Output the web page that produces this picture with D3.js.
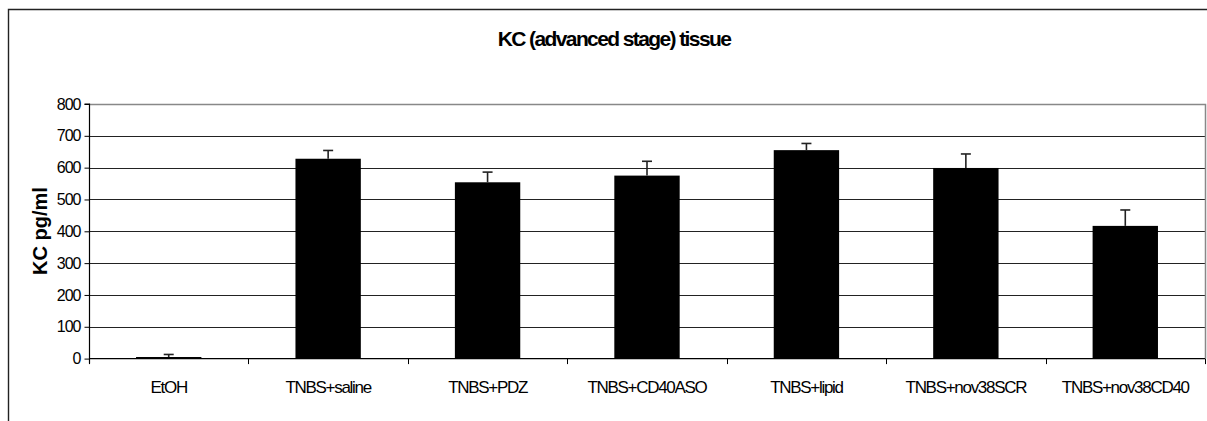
<!DOCTYPE html>
<html>
<head>
<meta charset="utf-8">
<script src="https://cdn.jsdelivr.net/npm/d3@7"></script>
<style>
  html, body { margin: 0; padding: 0; background: #fff; }
  svg { display: block; }
  text { font-family: "Liberation Sans", Arial, sans-serif; fill: #000; }
</style>
</head>
<body>
<svg id="chart" width="1207" height="421"></svg>
<script>
// Treatment groups along the x axis
const categories = ["EtOH", "TNBS+saline", "TNBS+PDZ", "TNBS+CD40ASO", "TNBS+lipid", "TNBS+nov38SCR", "TNBS+nov38CD40"];
// Mean KC concentration (pg/ml) per group
const means = [5, 628, 554, 575, 655, 599, 417];
// Upper error (SEM) per group
const errors = [8, 26, 32, 45, 21, 44, 50];
// Y axis tick values
const yTicks = [0, 100, 200, 300, 400, 500, 600, 700, 800];

const chartTitle = "KC (advanced stage) tissue";
const yTitle = "KC pg/ml";

const svg = d3.select("#chart");

const plot = { left: 89, right: 1205, top: 104, bottom: 358.6 };

const x = d3.scaleBand()
  .domain(categories)
  .range([plot.left, plot.right])
  .paddingInner(0.59)
  .paddingOuter(0.295);

const y = d3.scaleLinear()
  .domain([0, 800])
  .range([plot.bottom, plot.top]);

// Outer chart frame (top and left edges)
svg.append("path")
  .attr("d", `M8.5,421 V9.5 H1207`)
  .attr("fill", "none")
  .attr("stroke", "#222")
  .attr("stroke-width", 1.4);

// Title
svg.append("text")
  .attr("x", 614)
  .attr("y", 46)
  .attr("text-anchor", "middle")
  .style("font-size", "21px")
  .style("font-weight", "bold")
  .style("letter-spacing", "-1.6px")
  .text(chartTitle);

// Horizontal gridlines
svg.append("g")
  .selectAll("line")
  .data(yTicks.filter(t => t > 0 && t < 800))
  .join("line")
  .attr("x1", plot.left)
  .attr("x2", plot.right)
  .attr("y1", d => Math.round(y(d)) + 0.5)
  .attr("y2", d => Math.round(y(d)) + 0.5)
  .attr("stroke", "#222")
  .attr("stroke-width", 1);

// Plot area border (top and right)
svg.append("path")
  .attr("d", `M${plot.left},${Math.round(y(800)) + 0.5} H${plot.right + 0.5} V${plot.bottom}`)
  .attr("fill", "none")
  .attr("stroke", "#888")
  .attr("stroke-width", 1.5);

// Bars
svg.append("g")
  .selectAll("rect")
  .data(categories)
  .join("rect")
  .attr("x", d => x(d))
  .attr("width", x.bandwidth())
  .attr("y", (d, i) => y(means[i]))
  .attr("height", (d, i) => y(0) - y(means[i]))
  .attr("fill", "#000");

// Error bars (upper only)
const eb = svg.append("g").attr("stroke", "#222").attr("stroke-width", 1.6);
categories.forEach((c, i) => {
  const cx = x(c) + x.bandwidth() / 2;
  eb.append("line")
    .attr("x1", cx).attr("x2", cx)
    .attr("y1", y(means[i])).attr("y2", y(means[i] + errors[i]));
  eb.append("line")
    .attr("x1", cx - 5).attr("x2", cx + 5)
    .attr("y1", y(means[i] + errors[i])).attr("y2", y(means[i] + errors[i]));
});

// Y axis
const yAxis = svg.append("g")
  .attr("transform", `translate(${plot.left + 0.5},0)`)
  .call(d3.axisLeft(y).tickValues(yTicks).tickSize(5).tickPadding(4).tickSizeOuter(0));
yAxis.select(".domain").attr("stroke", "#000").attr("stroke-width", 1.2)
  .attr("d", `M-5,${y(800)}H0V${plot.bottom + 5}`);
yAxis.selectAll(".tick line").attr("stroke", "#000");
yAxis.selectAll(".tick text")
  .style("font-size", "16px")
  .style("letter-spacing", "-1px")
  .attr("font-family", null);

// X axis with tick marks between categories
const xAxisG = svg.append("g");
xAxisG.append("line")
  .attr("x1", plot.left).attr("x2", plot.right)
  .attr("y1", plot.bottom).attr("y2", plot.bottom)
  .attr("stroke", "#000").attr("stroke-width", 1.4);
const step = x.step();
const boundaries = d3.range(categories.length + 1).map(i => plot.left + i * step);
xAxisG.selectAll("line.tick")
  .data(boundaries)
  .join("line")
  .attr("class", "tick")
  .attr("x1", d => Math.round(d) + 0.5)
  .attr("x2", d => Math.round(d) + 0.5)
  .attr("y1", plot.bottom)
  .attr("y2", plot.bottom + 5.5)
  .attr("stroke", "#000");

// Category labels
xAxisG.selectAll("text")
  .data(categories)
  .join("text")
  .attr("x", d => x(d) + x.bandwidth() / 2)
  .attr("y", 393)
  .attr("text-anchor", "middle")
  .style("font-size", "17px")
  .style("letter-spacing", "-1.3px")
  .text(d => d);

// Y axis title
svg.append("text")
  .attr("transform", `translate(47,231) rotate(-90)`)
  .attr("text-anchor", "middle")
  .style("font-size", "20px")
  .style("font-weight", "bold")
  .text(yTitle);
</script>
</body>
</html>
